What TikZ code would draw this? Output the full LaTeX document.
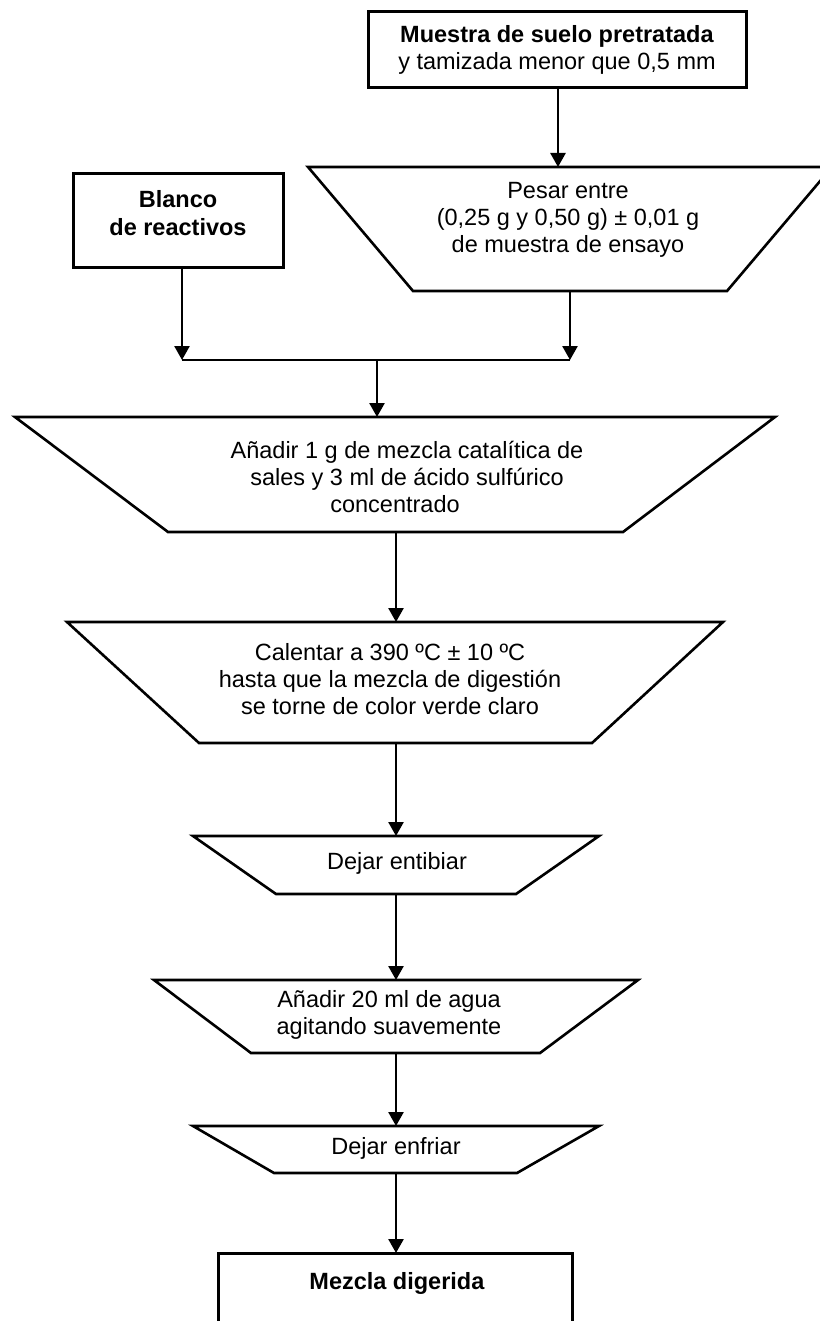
\documentclass[tikz,border=0pt]{standalone}
\usepackage{fontspec}
\setmainfont{Liberation Sans}
\usetikzlibrary{arrows.meta}
\begin{document}
\begin{tikzpicture}[x=1pt,y=-1pt,
  shapeline/.style={line width=2.6pt, line join=miter},
  boxnode/.style={draw, line width=3pt, inner sep=0pt, outer sep=0pt},
  txt/.style={align=center, font=\fontsize{23.5}{27.3}\selectfont, inner sep=0pt},
  conn/.style={line width=2.6pt, -{Triangle[width=15pt,length=14pt]}},
  plainline/.style={line width=2.6pt}]
\useasboundingbox (0,0) rectangle (819,1321);

% top box
\node[boxnode, minimum width=378pt, minimum height=76pt] (muestra) at (557,50) {};
\node[txt] (muestraT) at (557,50) {\textbf{Muestra de suelo pretratada}\\y tamizada menor que 0,5 mm};

% Pesar trapezoid
\draw[shapeline] (308,167) -- (832,167) -- (727,291) -- (413,291) -- cycle;
\coordinate (pesarTop) at (558,167);
\coordinate (pesarB) at (570,291);
\node[txt] (pesarT) at (568,220) {Pesar entre\\(0,25 g y 0,50 g) ± 0,01 g\\de muestra de ensayo};

% Blanco box
\node[boxnode, minimum width=210pt, minimum height=94pt] (blanco) at (178,221) {};
\node[txt] (blancoT) at (178,213) {\textbf{Blanco}\\\textbf{de reactivos}};

% junction
\coordinate (joinL) at (182,360);
\coordinate (joinR) at (570,360);
\coordinate (joinM) at (377,360);

% Añadir 1 g trapezoid
\draw[shapeline] (15,417) -- (775,417) -- (623,532) -- (168,532) -- cycle;
\coordinate (anadirTop) at (377,417);
\coordinate (anadirB) at (396,532);
\node[txt] (anadirT) at (407,477) {Añadir 1 g de mezcla catalítica de\\sales y 3 ml de ácido sulfúrico\\concentrado\hspace*{24pt}};

% Calentar trapezoid
\draw[shapeline] (67,622) -- (723,622) -- (592,743) -- (199,743) -- cycle;
\coordinate (calTop) at (396,622);
\coordinate (calB) at (396,743);
\node[txt] (calT) at (390,679) {Calentar a 390 ºC ± 10 ºC\\hasta que la mezcla de digestión\\se torne de color verde claro};

% Dejar entibiar
\draw[shapeline] (193,836) -- (599,836) -- (516,894) -- (276,894) -- cycle;
\coordinate (entTop) at (396,836);
\coordinate (entB) at (396,894);
\node[txt] (entT) at (397,863) {Dejar entibiar};

% Añadir 20 ml
\draw[shapeline] (154,980) -- (638,980) -- (540,1053) -- (251,1053) -- cycle;
\coordinate (aguaTop) at (396,980);
\coordinate (aguaB) at (396,1053);
\node[txt] (aguaT) at (389,1015) {Añadir 20 ml de agua\\agitando suavemente};

% Dejar enfriar
\draw[shapeline] (193,1126) -- (599,1126) -- (517,1173) -- (274,1173) -- cycle;
\coordinate (enfTop) at (396,1126);
\coordinate (enfB) at (396,1173);
\node[txt] (enfT) at (396,1148) {Dejar enfriar};

% Mezcla digerida box
\node[boxnode, minimum width=354pt, minimum height=100pt] (mezcla) at (395,1303) {};
\node[txt] (mezclaT) at (397,1283) {\textbf{Mezcla digerida}};

% connectors
\draw[conn] (pesarTop |- muestra.south) -- (pesarTop);
\draw[conn] (blanco.south -| joinL) -- (joinL);
\draw[conn] (pesarB) -- (joinR);
\draw[plainline] (joinL) -- (joinR);
\draw[conn] (joinM) -- (anadirTop);
\draw[conn] (anadirB) -- (calTop);
\draw[conn] (calB) -- (entTop);
\draw[conn] (entB) -- (aguaTop);
\draw[conn] (aguaB) -- (enfTop);
\draw[conn] (enfB) -- (mezcla.north -| enfB);
\end{tikzpicture}
\end{document}
